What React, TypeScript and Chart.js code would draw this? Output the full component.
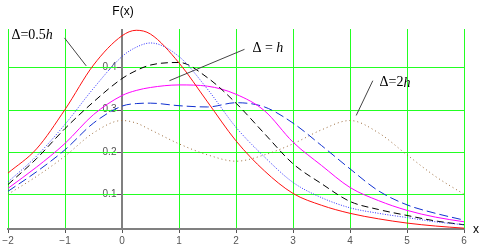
import { useEffect, useRef } from "react";
import { Chart, registerables } from "chart.js";

Chart.register(...registerables);

// x positions shared by all curves
const xs = [-2, -1.5, -1, -0.5, 0, 0.25, 0.5, 1, 1.5, 2, 2.5, 3, 3.5, 4, 4.5, 5, 5.5, 6];

// Δ = 0.5h (red solid)
const redSolid = [0.150, 0.207, 0.300, 0.405, 0.474, 0.487, 0.478, 0.410, 0.318, 0.226, 0.155, 0.102, 0.074, 0.055, 0.042, 0.032, 0.025, 0.020];
// blue dotted
const blueDotted = [0.129, 0.190, 0.265, 0.350, 0.425, 0.447, 0.457, 0.425, 0.348, 0.258, 0.188, 0.128, 0.092, 0.068, 0.055, 0.045, 0.035, 0.028];
// Δ = h (black dashed)
const blackDashed = [0.123, 0.184, 0.255, 0.318, 0.373, 0.392, 0.405, 0.411, 0.375, 0.315, 0.243, 0.172, 0.125, 0.083, 0.064, 0.050, 0.037, 0.028];
// magenta solid
const magentaSolid = [0.114, 0.164, 0.220, 0.288, 0.333, 0.345, 0.352, 0.358, 0.355, 0.336, 0.297, 0.223, 0.168, 0.116, 0.085, 0.062, 0.046, 0.035];
// blue dashed
const blueDashed = [0.107, 0.153, 0.205, 0.268, 0.308, 0.314, 0.315, 0.309, 0.306, 0.316, 0.306, 0.268, 0.215, 0.160, 0.108, 0.075, 0.055, 0.039];
// Δ = 2h (brown dotted)
const brownDotted = [0.100, 0.142, 0.190, 0.245, 0.274, 0.268, 0.252, 0.219, 0.193, 0.178, 0.193, 0.219, 0.252, 0.274, 0.245, 0.193, 0.142, 0.100];

const xTicks = [-2, -1, 0, 1, 2, 3, 4, 5, 6];
const yTicks = [0.1, 0.2, 0.3, 0.4];

const yTitle = "F(x)";
const xTitle = "x";

// annotations: text parts [text, italic], anchor in data coords, leader line in data coords
const notes = [
  { parts: [["Δ=0.5", false], ["h", true]], at: [-1.94, 0.474], line: [[-1.009, 0.469], [-0.628, 0.403]] },
  { parts: [["Δ = ", false], ["h", true]], at: [2.289, 0.445], line: [[2.149, 0.442], [0.833, 0.368]] },
  { parts: [["Δ=2", false], ["h", true]], at: [4.518, 0.363], line: [[4.4, 0.368], [4.109, 0.286]] },
];

const series = [
  { data: redSolid, color: "#ff1010", dash: [] as number[] },
  { data: blueDotted, color: "#3030ff", dash: [1, 1.5] },
  { data: blackDashed, color: "#000000", dash: [7, 4] },
  { data: magentaSolid, color: "#ff00ff", dash: [] as number[] },
  { data: blueDashed, color: "#1030d0", dash: [9, 4] },
  { data: brownDotted, color: "#9a6a3a", dash: [1, 3] },
];

const GRID = "#22ff22";
const AXIS = "#808080";

const fmt = (v: number) => (v < 0 ? "\u2212" + Math.abs(v) : String(v));

export default function App() {
  const ref = useRef<HTMLCanvasElement | null>(null);

  useEffect(() => {
    document.body.style.margin = "0";
    const canvas = ref.current;
    if (!canvas) return;

    const gridPlugin = {
      id: "gridPlugin",
      beforeDatasetsDraw(chart: any) {
        const ctx = chart.ctx;
        const sx = chart.scales.x;
        const sy = chart.scales.y;
        const a = chart.chartArea;
        ctx.save();
        ctx.setLineDash([]);
        ctx.strokeStyle = GRID;
        ctx.lineWidth = 1;
        ctx.beginPath();
        for (const v of yTicks) {
          const y = Math.round(sy.getPixelForValue(v)) + 0.5;
          ctx.moveTo(a.left, y);
          ctx.lineTo(a.right, y);
        }
        ctx.stroke();
        const x0 = Math.round(sx.getPixelForValue(0));
        // y tick marks
        ctx.strokeStyle = "#555";
        ctx.lineWidth = 1;
        ctx.beginPath();
        for (const v of yTicks) {
          const y = Math.round(sy.getPixelForValue(v)) + 0.5;
          ctx.moveTo(x0 - 5, y);
          ctx.lineTo(x0, y);
        }
        ctx.stroke();
        // y axis line
        ctx.strokeStyle = AXIS;
        ctx.lineWidth = 2;
        ctx.beginPath();
        ctx.moveTo(x0, a.top);
        ctx.lineTo(x0, a.bottom);
        ctx.stroke();
        ctx.restore();
      },
    };

    const overlay = {
      id: "overlay",
      afterDraw(chart: any) {
        const ctx = chart.ctx;
        const xs_ = chart.scales.x;
        const ys_ = chart.scales.y;
        const area = chart.chartArea;
        ctx.save();
        ctx.fillStyle = "#000";
        ctx.font = "12px Arial, 'Liberation Sans', sans-serif";
        ctx.textAlign = "center";
        ctx.textBaseline = "middle";
        ctx.fillText(yTitle, xs_.getPixelForValue(0) + 1, area.top - 17);
        ctx.fillText(xTitle, area.right + 12, area.bottom + 1);

        for (const n of notes) {
          ctx.strokeStyle = "#444";
          ctx.lineWidth = 1;
          ctx.beginPath();
          ctx.moveTo(xs_.getPixelForValue(n.line[0][0]), ys_.getPixelForValue(n.line[0][1]));
          ctx.lineTo(xs_.getPixelForValue(n.line[1][0]), ys_.getPixelForValue(n.line[1][1]));
          ctx.stroke();
          let px = xs_.getPixelForValue(n.at[0]);
          const py = ys_.getPixelForValue(n.at[1]);
          ctx.textAlign = "left";
          ctx.textBaseline = "middle";
          ctx.fillStyle = "#000";
          for (const [t, it] of n.parts as [string, boolean][]) {
            ctx.font = (it ? "italic " : "") + "14px 'Liberation Serif', 'Times New Roman', serif";
            ctx.fillText(t, px, py);
            px += ctx.measureText(t).width;
          }
        }
        ctx.restore();
      },
    };

    const chart = new Chart(canvas, {
      type: "line",
      data: {
        datasets: series.map((s) => ({
          data: xs.map((x, i) => ({ x, y: s.data[i] })),
          borderColor: s.color,
          borderWidth: 1,
          borderDash: s.dash,
          pointRadius: 0,
          fill: false,
          cubicInterpolationMode: "monotone" as const,
        })),
      },
      options: {
        responsive: false,
        animation: false,
        devicePixelRatio: 1,
        layout: { padding: { left: 8, right: 21, top: 29, bottom: 0 } },
        plugins: { legend: { display: false }, tooltip: { enabled: false } },
        scales: {
          x: {
            type: "linear",
            position: "bottom",
            min: -2,
            max: 6,
            afterFit: (s: any) => {
              s.height = 18;
            },
            afterBuildTicks: (s: any) => {
              s.ticks = xTicks.map((v) => ({ value: v }));
            },
            grid: { color: GRID, lineWidth: 1, tickColor: "#555", tickLength: 4 },
            border: { color: AXIS, width: 2 },
            ticks: {
              color: "#555",
              font: { size: 10, family: "Arial, 'Liberation Sans', sans-serif" },
              padding: 2,
              callback: (v: any) => fmt(Number(v)),
            },
          },
          y: {
            type: "linear",
            position: { x: 0 } as any,
            min: 0.018,
            max: 0.49,
            afterBuildTicks: (s: any) => {
              s.ticks = yTicks.map((v) => ({ value: v }));
            },
            grid: { display: false },
            border: { display: false },
            ticks: {
              color: "#555",
              font: { size: 10, family: "Arial, 'Liberation Sans', sans-serif" },
              callback: (v: any) => Number(v).toFixed(1) + "  ",
            },
          },
        },
      },
      plugins: [gridPlugin, overlay],
    });

    return () => chart.destroy();
  }, []);

  return <canvas ref={ref} width={485} height={247} style={{ display: "block", width: 485, height: 247 }} />;
}
